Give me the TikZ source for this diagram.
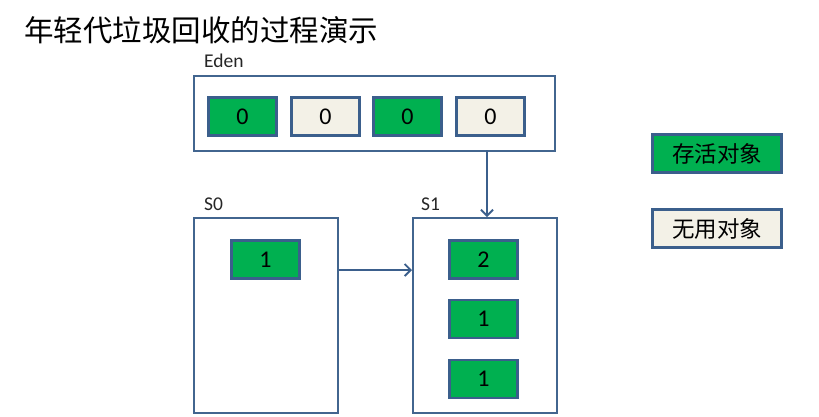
\documentclass[tikz,border=0pt]{standalone}
\usepackage{fontspec}
\setmainfont{Carlito}
\newfontfamily\cjk{Noto Sans CJK SC}
\usetikzlibrary{arrows.meta}
\definecolor{gboxc}{HTML}{00B050}
\definecolor{creamc}{HTML}{F3F1E7}
\definecolor{edgec}{HTML}{3B5F8C}
\definecolor{framec}{HTML}{42658F}
\begin{document}
\begin{tikzpicture}[x=1pt,y=-1pt,
  region/.style={draw=framec,line width=1.8pt,fill=white},
  cell/.style={draw=edgec,line width=2.2pt,minimum width=68pt,minimum height=38pt,inner sep=0pt,font=\fontsize{24}{24}\selectfont},
  live/.style={cell,fill=gboxc},
  dead/.style={cell,fill=creamc},
  legend/.style={cell,minimum width=129pt,minimum height=38pt,font=\cjk\fontsize{22.5}{22.5}\selectfont},
  lbl/.style={anchor=base west,font=\fontsize{19.5}{19.5}\selectfont,text=black!85},
  conn/.style={draw=edgec,line width=1.9pt,-{Straight Barb[length=6pt,width=12pt,line width=1.9pt]}}
]
\useasboundingbox (0,0) rectangle (819,416);
\fill[white] (0,0) rectangle (819,416);
% title
\node[anchor=base west,inner sep=0pt,font=\cjk\fontsize{29.5}{29.5}\selectfont] (title) at (24,41) {年轻代垃圾回收的过程演示};
% regions
\node[region,anchor=north west,minimum width=361pt,minimum height=75pt,inner sep=0pt] (eden) at (193,75) {};
\node[region,anchor=north west,minimum width=144pt,minimum height=195pt,inner sep=0pt] (s0) at (193,217) {};
\node[region,anchor=north west,minimum width=144pt,minimum height=195pt,inner sep=0pt] (s1) at (412,217) {};
\node[lbl,inner sep=0pt] (edenl) at (204,67) {Eden};
\node[lbl,inner sep=0pt] (s0l) at (204,210) {S0};
\node[lbl,inner sep=0pt] (s1l) at (421,210) {S1};
% eden cells
\node[live] (e1) at (242.5,116.5) {0};
\node[dead] (e2) at (325.5,116.5) {0};
\node[live] (e3) at (407.5,116.5) {0};
\node[dead] (e4) at (490.5,116.5) {0};
% s0 cells
\node[live] (a1) at (265.5,259.5) {1};
% s1 cells
\node[live] (b1) at (483.5,259.5) {2};
\node[live] (b2) at (483.5,319) {1};
\node[live] (b3) at (483.5,379) {1};
% legend
\node[legend,fill=gboxc] (lg1) at (717,153.5) {存活对象};
\node[legend,fill=creamc] (lg2) at (717,228.5) {无用对象};
% connectors
\coordinate (edenout) at (487,150);
\coordinate (s1in) at (487,217);
\coordinate (arrowy) at (0,270);
\draw[conn] (edenout) -- (s1in);
\draw[conn] (s0.east |- arrowy) -- (s1.west |- arrowy);
\end{tikzpicture}
\end{document}
